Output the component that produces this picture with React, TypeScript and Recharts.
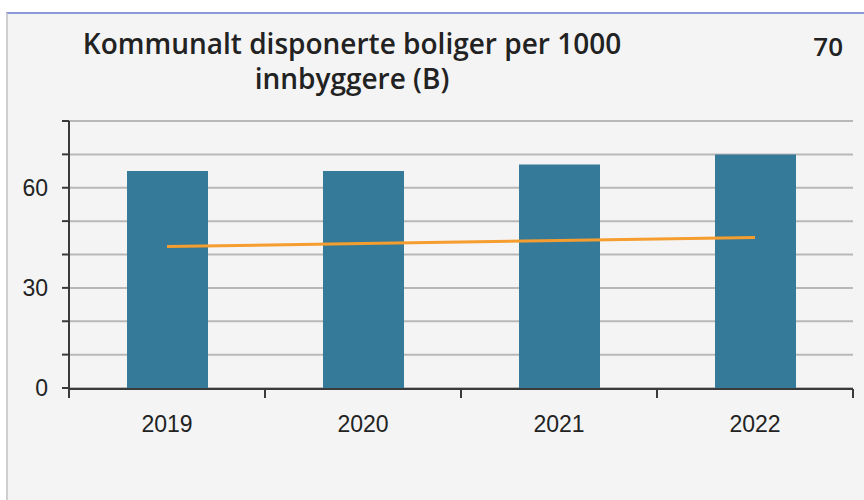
import React from 'react'
import { ComposedChart, Bar, Line, XAxis, YAxis, CartesianGrid } from 'recharts'

const years = ['2019', '2020', '2021', '2022']
const boliger = [65, 65, 67, 70]
const snitt = [42.4, 43.3, 44.2, 45.1]
const yTicks = [0, 10, 20, 30, 40, 50, 60, 70, 80]
const yLabels = [0, 30, 60]
const edgeTicks = [0, 1, 2, 3, 4]

const chartData = years.map((year, i) => ({
  year,
  pos: i + 0.5,
  boliger: boliger[i],
  snitt: snitt[i],
}))

const axisColor = '#3a3a3a'
const tickFont = { fontSize: 23, fill: '#222', fontFamily: '"Liberation Sans", Arial, sans-serif' }

export default function App() {
  return (
    <div
      style={{
        position: 'absolute',
        left: 0,
        top: 0,
        width: 864,
        height: 500,
        background: '#fff',
        overflow: 'hidden',
      }}
    >
      {/* panel */}
      <div
        style={{
          position: 'absolute',
          left: 6,
          top: 12,
          right: 0,
          bottom: 0,
          background: '#f4f4f4',
          borderLeft: '2px solid #cfcfcf',
          borderTop: '2px solid #8a98dc',
        }}
      />

      {/* title */}
      <div
        style={{
          position: 'absolute',
          left: 52,
          top: 26,
          width: 600,
          textAlign: 'center',
          fontFamily: '"Open Sans", sans-serif',
          fontSize: 28,
          fontWeight: 600,
          lineHeight: '35px',
          color: '#222',
        }}
      >
        Kommunalt disponerte boliger per 1000
        <br />
        innbyggere (B)
      </div>
      <div
        style={{
          position: 'absolute',
          right: 21,
          top: 29,
          fontFamily: '"Open Sans", sans-serif',
          fontSize: 26,
          fontWeight: 600,
          lineHeight: '35px',
          color: '#222',
        }}
      >
        70
      </div>

      <div style={{ position: 'absolute', left: 0, top: 0 }}>
        <ComposedChart
          width={864}
          height={500}
          data={chartData}
          margin={{ top: 121, right: 11, bottom: 0, left: 0 }}
        >
          <CartesianGrid vertical={false} stroke="#b8b8b8" strokeWidth={2} />
          {/* year labels; thin box, text hangs below */}
          <XAxis
            xAxisId="cat"
            dataKey="year"
            height={1}
            axisLine={false}
            tickLine={false}
            tick={tickFont}
            tickMargin={22}
            interval={0}
          />
          {/* axis line with ticks between the years */}
          <XAxis
            xAxisId="edge"
            dataKey="pos"
            type="number"
            domain={[0, 4]}
            ticks={edgeTicks}
            tickFormatter={() => ''}
            height={111}
            axisLine={{ stroke: axisColor, strokeWidth: 2 }}
            tickLine={{ stroke: axisColor, strokeWidth: 2 }}
            tickSize={9}
          />
          <YAxis
            domain={[0, 80]}
            ticks={yTicks}
            interval={0}
            width={69}
            tick={tickFont}
            tickFormatter={(v: number) => (yLabels.includes(v) ? String(v) : '')}
            axisLine={{ stroke: axisColor, strokeWidth: 2 }}
            tickLine={{ stroke: axisColor, strokeWidth: 2 }}
            tickSize={7}
            tickMargin={14}
          />
          <Bar
            xAxisId="cat"
            dataKey="boliger"
            fill="#367a99"
            barSize={81}
            isAnimationActive={false}
          />
          <Line
            xAxisId="cat"
            dataKey="snitt"
            stroke="#f59d2e"
            strokeWidth={3}
            dot={false}
            activeDot={false}
            isAnimationActive={false}
          />
        </ComposedChart>
      </div>
    </div>
  )
}
